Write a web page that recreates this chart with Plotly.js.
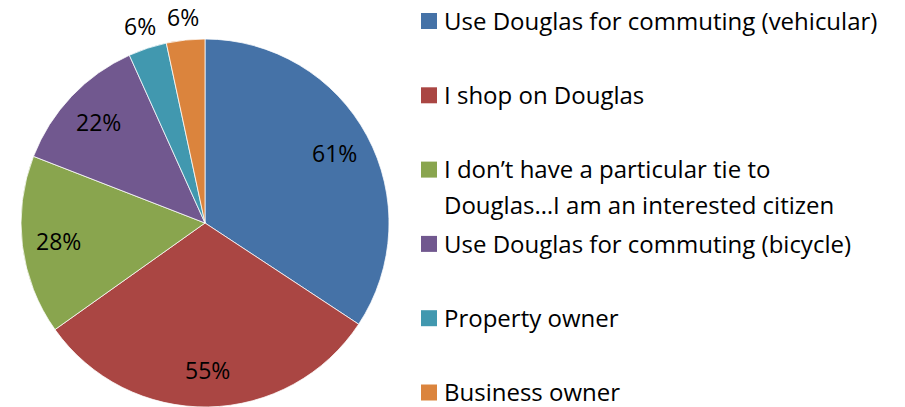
<!DOCTYPE html>
<html>
<head>
<meta charset="utf-8">
<script src="https://cdn.plot.ly/plotly-3.0.1.min.js"></script>
<style>
  html, body { margin: 0; padding: 0; background: #fff; }
  #chart { width: 905px; height: 407px; }
</style>
</head>
<body>
<div id="chart"></div>
<script>
// ---- data ----
const categories = [
  "Use Douglas for commuting (vehicular)",
  "I shop on Douglas",
  "I don\u2019t have a particular tie to<br>Douglas\u2026I am an interested citizen",
  "Use Douglas for commuting (bicycle)",
  "Property owner",
  "Business owner"
];
const values = [61, 55, 28, 22, 6, 6];
const valueLabels = ["61%", "55%", "28%", "22%", "6%", "6%"];
const colors = ["#4572A7", "#AA4643", "#89A54E", "#71588F", "#4198AF", "#DB843D"];
const labelOutside = [false, false, false, false, true, true];

// ---- layout constants (pixels) ----
const W = 905, H = 407;
const FONT = "'Open Sans', 'Noto Sans', sans-serif";
const FS = 24;
const cx = 205, cy = 223, R = 184;

const px = x => x / W;
const py = y => 1 - y / H;

const pieTrace = {
  type: "pie",
  labels: categories,
  values: values,
  sort: false,
  direction: "clockwise",
  rotation: 0,
  textinfo: "none",
  hoverinfo: "label+value",
  showlegend: false,
  marker: { colors: colors, line: { color: "rgba(255,255,255,0.75)", width: 1 } },
  domain: { x: [px(cx - R), px(cx + R)], y: [py(cy + R), py(cy - R)] }
};

// value labels placed along each slice's mid angle (computed from the values)
const total = values.reduce((a, b) => a + b, 0);
const annotations = [];
let cum = 0;
values.forEach((v, i) => {
  const mid = (cum + v / 2) / total * 2 * Math.PI;
  cum += v;
  const f = labelOutside[i] ? 1.125 : 0.8;
  const x = cx + R * f * Math.sin(mid);
  const y = cy - R * f * Math.cos(mid);
  annotations.push({
    xref: "paper", yref: "paper", x: px(x), y: py(y),
    xanchor: "center", yanchor: "middle", showarrow: false,
    text: valueLabels[i], font: { family: FONT, size: 23, color: "#000" }
  });
});

// legend (squares + text), entries evenly pitched
const shapes = [];
const legX = 421, legSq = 16, legTextX = 443;
const firstBase = 28, pitch = 74.3, lineH = 36;
categories.forEach((c, i) => {
  const base = firstBase + pitch * i;
  shapes.push({
    type: "rect", xref: "paper", yref: "paper",
    x0: px(legX), x1: px(legX + legSq), y0: py(base + 1), y1: py(base + 1 - legSq),
    fillcolor: colors[i], line: { width: 0 }
  });
  c.split("<br>").forEach((line, j) => {
    const b = base + lineH * j;
    annotations.push({
      xref: "paper", yref: "paper", x: px(legTextX), y: py(b - 0.32 * FS),
      xanchor: "left", yanchor: "middle", showarrow: false, borderpad: 0,
      text: line, font: { family: FONT, size: FS, color: "#000" }
    });
  });
});

const layout = {
  width: W, height: H,
  margin: { l: 0, r: 0, t: 0, b: 0 },
  paper_bgcolor: "#fff",
  plot_bgcolor: "#fff",
  showlegend: false,
  annotations: annotations,
  shapes: shapes
};

Plotly.newPlot("chart", [pieTrace], layout, { displayModeBar: false, staticPlot: true });
</script>
</body>
</html>
